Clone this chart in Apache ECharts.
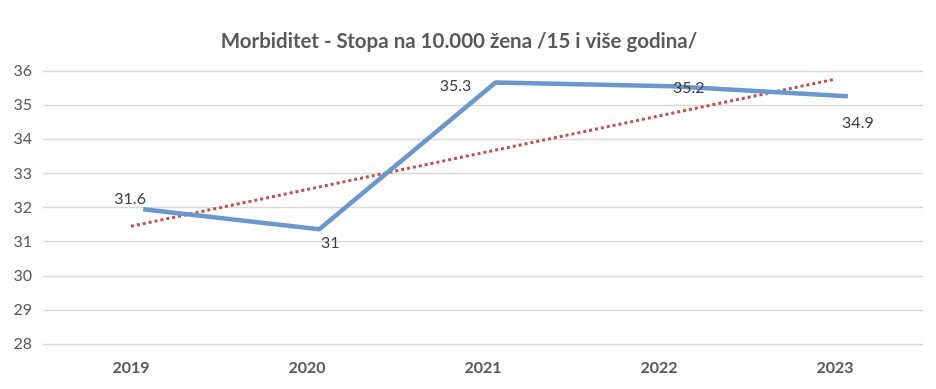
<!DOCTYPE html>
<html>
<head>
<meta charset="utf-8">
<script src="https://cdn.jsdelivr.net/npm/echarts@6/dist/echarts.min.js"></script>
<style>html,body{margin:0;padding:0;background:#fff}#c{width:936px;height:389px}</style>
</head>
<body>
<div id="c"></div>
<script>
var categories = ['2019', '2020', '2021', '2022', '2023'];
var seriesValues = [31.95, 31.36, 35.66, 35.55, 35.26];
var labelTexts = ['31.6', '31', '35.3', '35.2', '34.9'];
var trendValues = [31.45, null, null, null, 35.76];
var yTicks = [28, 29, 30, 31, 32, 33, 34, 35, 36];

var labelOffsets = [[-13, -10], [11, 14], [-40, 3], [17, 1], [10, 27]];
var font = 'Lato, "Open Sans", sans-serif';

var chart = echarts.init(document.getElementById('c'));
chart.setOption({
  animation: false,
  backgroundColor: '#fff',
  title: {
    text: 'Morbiditet - Stopa na 10.000 žena /15 i više godina/',
    left: 454, top: 26, textAlign: 'center',
    textStyle: {fontFamily: font, fontSize: 20.5, fontWeight: 'bold', color: '#595959'}
  },
  grid: [
    {left: 43, right: 13, top: 71, bottom: 45},
    {left: 55, right: 0, top: 71, bottom: 45}
  ],
  xAxis: [
    {type: 'category', gridIndex: 0, data: categories, boundaryGap: true,
     axisLine: {show: false}, axisTick: {show: false},
     axisLabel: {fontFamily: font, fontSize: 16, fontWeight: 'bold', color: '#595959', margin: 16}},
    {type: 'category', gridIndex: 1, data: categories, boundaryGap: true, show: false}
  ],
  yAxis: [
    {type: 'value', gridIndex: 0, min: yTicks[0], max: yTicks[yTicks.length - 1], interval: 1,
     axisLine: {show: false}, axisTick: {show: false},
     axisLabel: {fontFamily: font, fontSize: 16, color: '#595959', margin: 11},
     splitLine: {lineStyle: {color: '#d9d9d9', width: 1.3}}},
    {type: 'value', gridIndex: 1, min: yTicks[0], max: yTicks[yTicks.length - 1], interval: 1, show: false,
     splitLine: {show: false}}
  ],
  series: [
    {
      type: 'line', xAxisIndex: 0, yAxisIndex: 0, data: trendValues, connectNulls: true,
      symbol: 'none', silent: true,
      lineStyle: {color: '#c0504d', width: 3, type: [3, 3]}
    },
    {
      type: 'line', xAxisIndex: 1, yAxisIndex: 1,
      data: seriesValues.map(function (v, i) {
        return {value: v, label: {offset: labelOffsets[i]}};
      }),
      symbol: 'circle', symbolSize: 1, showSymbol: true,
      itemStyle: {color: 'rgba(0,0,0,0)'},
      lineStyle: {color: '#6b98cc', width: 4.5},
      label: {
        show: true, position: 'inside',
        fontFamily: font, fontSize: 16, color: '#404040',
        formatter: function (p) { return labelTexts[p.dataIndex]; }
      }
    }
  ]
});
</script>
</body>
</html>
